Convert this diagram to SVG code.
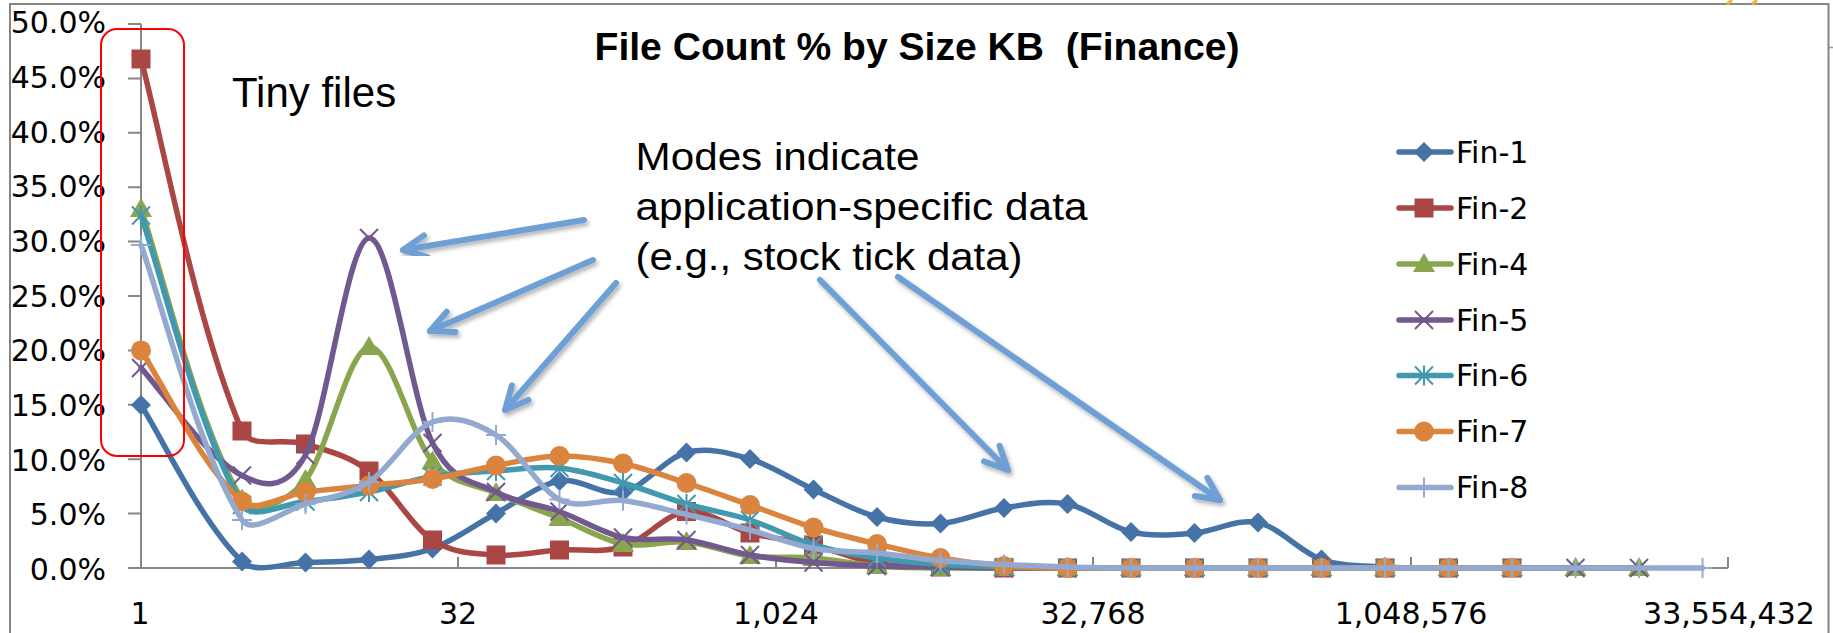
<svg xmlns="http://www.w3.org/2000/svg" width="1833" height="633" viewBox="0 0 1833 633">
<style>
.ax{stroke:#868686;stroke-width:2;fill:none}
.lbl{font-family:"DejaVu Sans",Verdana,sans-serif;font-size:30px;fill:#000}
.ylbl{text-anchor:end}
.xlbl{text-anchor:middle}
.ann{font-family:"Liberation Sans",Arial,sans-serif;fill:#000}
.ser{fill:none;stroke-width:5.5;stroke-linejoin:round;stroke-linecap:round}
.arr{stroke:#6E9FD5;stroke-width:6;fill:none;stroke-linecap:round;marker-end:url(#ah);filter:url(#sh)}
</style>
<defs>
<filter id="sh" x="-20%" y="-20%" width="140%" height="140%">
<feDropShadow dx="2" dy="3" stdDeviation="2" flood-color="#000" flood-opacity="0.3"/>
</filter>
<marker id="ah" markerUnits="userSpaceOnUse" viewBox="-30 -20 40 40" markerWidth="40" markerHeight="40" refX="0" refY="0" orient="auto" overflow="visible">
<path d="M-23,-11 L0,0 L-23,11" fill="none" stroke="#6E9FD5" stroke-width="6" stroke-linecap="round" stroke-linejoin="round"/>
</marker>
<path id="m1" d="M0,-10 L10,0 L0,10 L-10,0Z" fill="#4572A7"/>
<rect id="m2" x="-9.5" y="-9.5" width="19" height="19" fill="#AA4643"/>
<path id="m4" d="M0,-11 L11,8 L-11,8Z" fill="#89A54E"/>
<path id="m5" d="M-9,-9 L9,9 M-9,9 L9,-9" stroke="#71588F" stroke-width="2" fill="none"/>
<path id="m6" d="M-9,-9 L9,9 M-9,9 L9,-9 M0,-10 L0,10" stroke="#4198AF" stroke-width="2" fill="none"/>
<circle id="m7" r="10" fill="#DB843D"/>
<path id="m8" d="M-10,0 L10,0 M0,-10 L0,10" stroke="#93A9CF" stroke-width="2" fill="none"/>
</defs>
<rect width="1833" height="633" fill="#fff"/>
<g id="frame">
<path class="ax" d="M10,633 V4 H1828.5 V633" stroke="#8C8C8C"/>
<path d="M1829,47.5 H1833" stroke="#9A9A9A" stroke-width="1.5"/>
<path d="M1727,4 L1732,0 M1752,4 L1757,0" stroke="#F2B630" stroke-width="3"/>
</g>
<g id="axes">
<path class="ax" d="M141,24 V568 H1728 M128,24 H141 M128,78.4 H141 M128,132.8 H141 M128,187.2 H141 M128,241.6 H141 M128,296 H141 M128,350.4 H141 M128,404.8 H141 M128,459.2 H141 M128,513.6 H141 M128,568 H141 M458,557 V568 M776,557 V568 M1093,557 V568 M1411,557 V568 M1728,557 V568"/>
<text class="lbl ylbl" x="106" y="33.3">50.0%</text>
<text class="lbl ylbl" x="106" y="88">45.0%</text>
<text class="lbl ylbl" x="106" y="142.6">40.0%</text>
<text class="lbl ylbl" x="106" y="197.3">35.0%</text>
<text class="lbl ylbl" x="106" y="252">30.0%</text>
<text class="lbl ylbl" x="106" y="306.6">25.0%</text>
<text class="lbl ylbl" x="106" y="361.3">20.0%</text>
<text class="lbl ylbl" x="106" y="416">15.0%</text>
<text class="lbl ylbl" x="106" y="470.7">10.0%</text>
<text class="lbl ylbl" x="106" y="525.3">5.0%</text>
<text class="lbl ylbl" x="106" y="580">0.0%</text>
<text class="lbl xlbl" x="140" y="624">1</text>
<text class="lbl xlbl" x="458" y="624">32</text>
<text class="lbl xlbl" x="776" y="624">1,024</text>
<text class="lbl xlbl" x="1093" y="624">32,768</text>
<text class="lbl xlbl" x="1411" y="624">1,048,576</text>
<text class="lbl xlbl" x="1729" y="624">33,554,432</text>
</g>
<g id="title">
<text class="ann" x="594.5" y="60" font-size="38" font-weight="bold" textLength="645" lengthAdjust="spacingAndGlyphs" xml:space="preserve">File Count % by Size KB  (Finance)</text>
</g>
<g id="series-fin1">
<path class="ser" stroke="#4572A7" d="M141,405 C161.2,436.3 201.1,522.3 242,561.5 C255.9,574.8 284.3,562.8 305.5,562.5 S347.8,561.8 369,559.5 S411.3,556.2 432.5,548.5 S474.8,524.8 496,513.5 S538.3,484.6 559.5,481 S601.8,496.8 623,492 S665.3,458 686.5,452.5 S728.8,452.8 750,459 S792.3,479.8 813.5,489.5 S855.8,511.3 877,517 S919.3,525 940.5,523.5 S982.8,511.3 1004,508 S1046.3,500 1067.5,504 S1109.8,527.2 1131,532 S1173.3,534.6 1194.5,533 S1236.8,518.1 1258,522.5 S1300.3,552.1 1321.5,559.5 S1363.8,565.6 1385,567 S1427.3,567.8 1448.5,568 L1512,568"/>
<use href="#m1" x="141" y="405"/><use href="#m1" x="242" y="561.5"/><use href="#m1" x="305.5" y="562.5"/><use href="#m1" x="369" y="559.5"/><use href="#m1" x="432.5" y="548.5"/><use href="#m1" x="496" y="513.5"/><use href="#m1" x="559.5" y="481"/><use href="#m1" x="623" y="492"/><use href="#m1" x="686.5" y="452.5"/><use href="#m1" x="750" y="459"/><use href="#m1" x="813.5" y="489.5"/><use href="#m1" x="877" y="517"/><use href="#m1" x="940.5" y="523.5"/><use href="#m1" x="1004" y="508"/><use href="#m1" x="1067.5" y="504"/><use href="#m1" x="1131" y="532"/><use href="#m1" x="1194.5" y="533"/><use href="#m1" x="1258" y="522.5"/><use href="#m1" x="1321.5" y="559.5"/><use href="#m1" x="1385" y="567"/><use href="#m1" x="1448.5" y="568"/><use href="#m1" x="1512" y="568"/>
</g>
<g id="series-fin2">
<path class="ser" stroke="#AA4643" d="M141,59 C161.2,133.4 195.1,321.2 242,431 C249.9,449.5 284.3,437.3 305.5,444 S347.8,455 369,471 S411.3,526 432.5,540 S474.8,553.3 496,555 S538.3,551.3 559.5,550 S601.8,553.4 623,547 S665.3,513.8 686.5,511.5 S728.8,527.4 750,533 S792.3,539.9 813.5,545 S855.8,559.8 877,563.5 S919.3,566.3 940.5,567 S982.8,567.8 1004,568 L1512,568"/>
<use href="#m2" x="141" y="59"/><use href="#m2" x="242" y="431"/><use href="#m2" x="305.5" y="444"/><use href="#m2" x="369" y="471"/><use href="#m2" x="432.5" y="540"/><use href="#m2" x="496" y="555"/><use href="#m2" x="559.5" y="550"/><use href="#m2" x="623" y="547"/><use href="#m2" x="686.5" y="511.5"/><use href="#m2" x="750" y="533"/><use href="#m2" x="813.5" y="545"/><use href="#m2" x="877" y="563.5"/><use href="#m2" x="940.5" y="567"/><use href="#m2" x="1004" y="568"/><use href="#m2" x="1067.5" y="568"/><use href="#m2" x="1131" y="568"/><use href="#m2" x="1194.5" y="568"/><use href="#m2" x="1258" y="568"/><use href="#m2" x="1321.5" y="568"/><use href="#m2" x="1385" y="568"/><use href="#m2" x="1448.5" y="568"/><use href="#m2" x="1512" y="568"/>
</g>
<g id="series-fin4">
<path class="ser" stroke="#89A54E" d="M141,209 C161.2,267.1 196.9,425.2 242,499.5 C251.7,515.5 284.3,505.4 305.5,480 S347.8,350.1 369,347 S411.3,437.2 432.5,461.5 S474.8,483.6 496,493 S538.3,509.5 559.5,518 S601.8,540 623,544 S665.3,540 686.5,542 S728.8,553.3 750,556 S792.3,556.3 813.5,558 S855.8,564.3 877,566 S919.3,567.7 940.5,568 L1639,568"/>
<use href="#m4" x="141" y="209"/><use href="#m4" x="242" y="499.5"/><use href="#m4" x="305.5" y="480"/><use href="#m4" x="369" y="347"/><use href="#m4" x="432.5" y="461.5"/><use href="#m4" x="496" y="493"/><use href="#m4" x="559.5" y="518"/><use href="#m4" x="623" y="544"/><use href="#m4" x="686.5" y="542"/><use href="#m4" x="750" y="556"/><use href="#m4" x="813.5" y="558"/><use href="#m4" x="877" y="566"/><use href="#m4" x="940.5" y="568"/><use href="#m4" x="1004" y="568"/><use href="#m4" x="1067.5" y="568"/><use href="#m4" x="1131" y="568"/><use href="#m4" x="1194.5" y="568"/><use href="#m4" x="1258" y="568"/><use href="#m4" x="1321.5" y="568"/><use href="#m4" x="1385" y="568"/><use href="#m4" x="1448.5" y="568"/><use href="#m4" x="1512" y="568"/><use href="#m4" x="1575.5" y="568"/><use href="#m4" x="1639" y="568"/>
</g>
<g id="series-fin5">
<path class="ser" stroke="#71588F" d="M141,368 C161.2,389.5 204.2,455.5 242,475.5 C259.1,484.5 284.3,494.6 305.5,455 S347.8,240 369,238 S411.3,400.7 432.5,443 S474.8,480.6 496,492 S538.3,503.9 559.5,511.5 S601.8,532.8 623,537.5 S665.3,537.1 686.5,540 S728.8,551.3 750,555 S792.3,560.7 813.5,562.5 S855.8,565.3 877,566 S919.3,566.7 940.5,567 S982.8,567.8 1004,568 L1639,568"/>
<use href="#m5" x="141" y="368"/><use href="#m5" x="242" y="475.5"/><use href="#m5" x="305.5" y="455"/><use href="#m5" x="369" y="238"/><use href="#m5" x="432.5" y="443"/><use href="#m5" x="496" y="492"/><use href="#m5" x="559.5" y="511.5"/><use href="#m5" x="623" y="537.5"/><use href="#m5" x="686.5" y="540"/><use href="#m5" x="750" y="555"/><use href="#m5" x="813.5" y="562.5"/><use href="#m5" x="877" y="566"/><use href="#m5" x="940.5" y="567"/><use href="#m5" x="1004" y="568"/><use href="#m5" x="1067.5" y="568"/><use href="#m5" x="1131" y="568"/><use href="#m5" x="1194.5" y="568"/><use href="#m5" x="1258" y="568"/><use href="#m5" x="1321.5" y="568"/><use href="#m5" x="1385" y="568"/><use href="#m5" x="1448.5" y="568"/><use href="#m5" x="1512" y="568"/><use href="#m5" x="1575.5" y="568"/><use href="#m5" x="1639" y="568"/>
</g>
<g id="series-fin6">
<path class="ser" stroke="#4198AF" d="M141,215.5 C161.2,273.4 196.6,426.1 242,505 C251.4,521.4 284.3,503.7 305.5,501.5 S347.8,496.2 369,492 S411.3,480 432.5,476.5 S474.8,472.4 496,471 S538.3,466 559.5,468 S601.8,477 623,483 S665.3,497.8 686.5,504 S728.8,513.2 750,520 S792.3,538.7 813.5,545 S855.8,554.8 877,558 S919.3,563 940.5,564.5 S982.8,566.4 1004,567 S1046.3,567.8 1067.5,568 L1512,568"/>
<use href="#m6" x="141" y="215.5"/><use href="#m6" x="242" y="505"/><use href="#m6" x="305.5" y="501.5"/><use href="#m6" x="369" y="492"/><use href="#m6" x="432.5" y="476.5"/><use href="#m6" x="496" y="471"/><use href="#m6" x="559.5" y="468"/><use href="#m6" x="623" y="483"/><use href="#m6" x="686.5" y="504"/><use href="#m6" x="750" y="520"/><use href="#m6" x="813.5" y="545"/><use href="#m6" x="877" y="558"/><use href="#m6" x="940.5" y="564.5"/><use href="#m6" x="1004" y="567"/><use href="#m6" x="1067.5" y="568"/><use href="#m6" x="1131" y="568"/><use href="#m6" x="1194.5" y="568"/><use href="#m6" x="1258" y="568"/><use href="#m6" x="1321.5" y="568"/><use href="#m6" x="1385" y="568"/><use href="#m6" x="1448.5" y="568"/><use href="#m6" x="1512" y="568"/>
</g>
<g id="series-fin7">
<path class="ser" stroke="#DB843D" d="M141,350.4 C161.2,380.6 201.5,466.6 242,501.5 C256.3,513.8 284.3,494.7 305.5,492 S347.8,487.7 369,485.5 S411.3,482.3 432.5,479 S474.8,469.3 496,465.5 S538.3,456.3 559.5,456 S601.8,459 623,463.5 S665.3,476.1 686.5,483 S728.8,497.6 750,505 S792.3,521 813.5,527.5 S855.8,538.9 877,544 S919.3,554.3 940.5,558 S982.8,564.3 1004,566 S1046.3,567.7 1067.5,568 L1512,568"/>
<use href="#m7" x="141" y="350.4"/><use href="#m7" x="242" y="501.5"/><use href="#m7" x="305.5" y="492"/><use href="#m7" x="369" y="485.5"/><use href="#m7" x="432.5" y="479"/><use href="#m7" x="496" y="465.5"/><use href="#m7" x="559.5" y="456"/><use href="#m7" x="623" y="463.5"/><use href="#m7" x="686.5" y="483"/><use href="#m7" x="750" y="505"/><use href="#m7" x="813.5" y="527.5"/><use href="#m7" x="877" y="544"/><use href="#m7" x="940.5" y="558"/><use href="#m7" x="1004" y="566"/><use href="#m7" x="1067.5" y="568"/><use href="#m7" x="1131" y="568"/><use href="#m7" x="1194.5" y="568"/><use href="#m7" x="1258" y="568"/><use href="#m7" x="1321.5" y="568"/><use href="#m7" x="1385" y="568"/><use href="#m7" x="1448.5" y="568"/><use href="#m7" x="1512" y="568"/>
</g>
<g id="series-fin8">
<path class="ser" stroke="#93A9CF" d="M141,245 C161.2,300 197.2,449.4 242,520 C252,535.8 284.3,510.3 305.5,504 S347.8,495.7 369,482 S411.3,429.8 432.5,422 S474.8,422.1 496,435 S538.3,488.6 559.5,499.5 S601.8,498 623,500.5 S665.3,509.6 686.5,514.5 S728.8,524.3 750,530 S792.3,544.7 813.5,548.5 S855.8,551 877,553 S919.3,558.6 940.5,560.5 S982.8,563.4 1004,564.5 S1046.3,566.4 1067.5,567 S1109.8,567.8 1131,568 L1702.5,568"/>
<use href="#m8" x="141" y="245"/><use href="#m8" x="242" y="520"/><use href="#m8" x="305.5" y="504"/><use href="#m8" x="369" y="482"/><use href="#m8" x="432.5" y="422"/><use href="#m8" x="496" y="435"/><use href="#m8" x="559.5" y="499.5"/><use href="#m8" x="623" y="500.5"/><use href="#m8" x="686.5" y="514.5"/><use href="#m8" x="750" y="530"/><use href="#m8" x="813.5" y="548.5"/><use href="#m8" x="877" y="553"/><use href="#m8" x="940.5" y="560.5"/><use href="#m8" x="1004" y="564.5"/><use href="#m8" x="1067.5" y="567"/><use href="#m8" x="1131" y="568"/><use href="#m8" x="1194.5" y="568"/><use href="#m8" x="1258" y="568"/><use href="#m8" x="1321.5" y="568"/><use href="#m8" x="1385" y="568"/><use href="#m8" x="1448.5" y="568"/><use href="#m8" x="1512" y="568"/><use href="#m8" x="1575.5" y="568"/><use href="#m8" x="1639" y="568"/><use href="#m8" x="1702.5" y="568"/>
</g>
<g id="legend">
<g id="leg-fin1"><path class="ser" stroke="#4572A7" d="M1399,152 H1451"/><use href="#m1" x="1424" y="152"/><text class="lbl" x="1456" y="162.7">Fin-1</text></g>
<g id="leg-fin2"><path class="ser" stroke="#AA4643" d="M1399,208 H1451"/><use href="#m2" x="1424" y="208"/><text class="lbl" x="1456" y="218.7">Fin-2</text></g>
<g id="leg-fin4"><path class="ser" stroke="#89A54E" d="M1399,264 H1451"/><use href="#m4" x="1424" y="264"/><text class="lbl" x="1456" y="274.7">Fin-4</text></g>
<g id="leg-fin5"><path class="ser" stroke="#71588F" d="M1399,320 H1451"/><use href="#m5" x="1424" y="320"/><text class="lbl" x="1456" y="330.7">Fin-5</text></g>
<g id="leg-fin6"><path class="ser" stroke="#4198AF" d="M1399,375.5 H1451"/><use href="#m6" x="1424" y="375.5"/><text class="lbl" x="1456" y="386.2">Fin-6</text></g>
<g id="leg-fin7"><path class="ser" stroke="#DB843D" d="M1399,431.5 H1451"/><use href="#m7" x="1424" y="431.5"/><text class="lbl" x="1456" y="442.2">Fin-7</text></g>
<g id="leg-fin8"><path class="ser" stroke="#93A9CF" d="M1399,487.5 H1451"/><use href="#m8" x="1424" y="487.5"/><text class="lbl" x="1456" y="498.2">Fin-8</text></g>
</g>
<g id="tiny-files">
<rect x="101" y="29" width="83" height="427" rx="16" ry="16" fill="none" stroke="#FF0000" stroke-width="2"/>
<text class="ann" x="232" y="107" font-size="42">Tiny files</text>
</g>
<g id="modes-note">
<text class="ann" x="635.5" y="170" font-size="38" textLength="284" lengthAdjust="spacingAndGlyphs">Modes indicate</text>
<text class="ann" x="635.5" y="220" font-size="38" textLength="452" lengthAdjust="spacingAndGlyphs">application-specific data</text>
<text class="ann" x="635.5" y="270" font-size="38" textLength="387" lengthAdjust="spacingAndGlyphs">(e.g., stock tick data)</text>
</g>
<g id="connectors">
<path class="arr" d="M584,220 L403,250"/>
<path class="arr" d="M593,260 L430,331"/>
<path class="arr" d="M616,283 L505,410"/>
<path class="arr" d="M820,280 L1008,470"/>
<path class="arr" d="M898,277 L1220,500"/>
</g>
</svg>
